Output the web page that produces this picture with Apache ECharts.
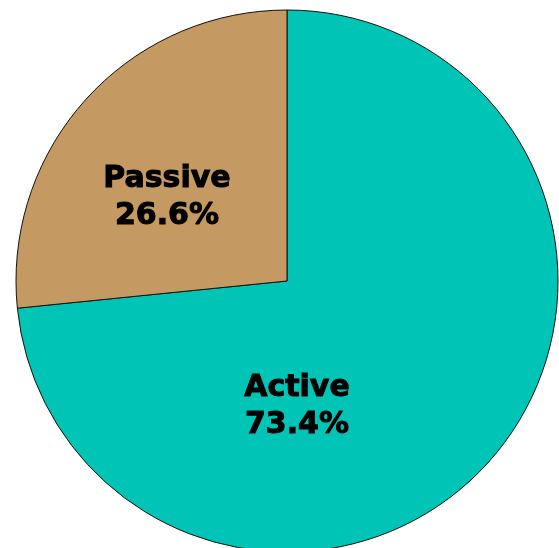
<!DOCTYPE html>
<html>
<head>
<meta charset="utf-8">
<script src="https://cdn.jsdelivr.net/npm/echarts@6/dist/echarts.min.js"></script>
<style>
  html, body { margin: 0; padding: 0; background: #fff; }
  #chart { width: 559px; height: 548px; }
</style>
</head>
<body>
<div id="chart"></div>
<script>
// Share of investment style
const categories = ['Active', 'Passive'];
const shares = [73.4, 26.6];
const colors = ['#00C5B6', '#C49A62'];
// Label anchor points (pixel offsets from the pie centre)
const labelOffsets = [[10, 126], [-120, -83]];

const cx = 287, cy = 281;

const chart = echarts.init(document.getElementById('chart'), null, { renderer: 'canvas' });
chart.setOption({
  animation: false,
  backgroundColor: '#ffffff',
  series: [{
    type: 'pie',
    center: [cx, cy],
    radius: 271,
    startAngle: 90,
    clockwise: true,
    data: categories.map((name, i) => ({
      name,
      value: shares[i],
      itemStyle: { color: colors[i] }
    })),
    itemStyle: { borderColor: '#111', borderWidth: 1 },
    label: {
      show: true,
      position: 'inside',
      formatter: p => p.name + '\n' + p.value.toFixed(1) + '%',
      fontFamily: 'DejaVu Sans, sans-serif',
      fontWeight: 'bold',
      fontSize: 30,
      lineHeight: 37,
      color: '#000',
      textBorderColor: '#000',
      textBorderWidth: 1,
      align: 'center',
      verticalAlign: 'middle'
    },
    labelLayout: p => ({
      x: cx + labelOffsets[p.dataIndex][0],
      y: cy + labelOffsets[p.dataIndex][1],
      align: 'center',
      verticalAlign: 'middle'
    }),
    labelLine: { show: false },
    emphasis: { disabled: true }
  }]
});
</script>
</body>
</html>
